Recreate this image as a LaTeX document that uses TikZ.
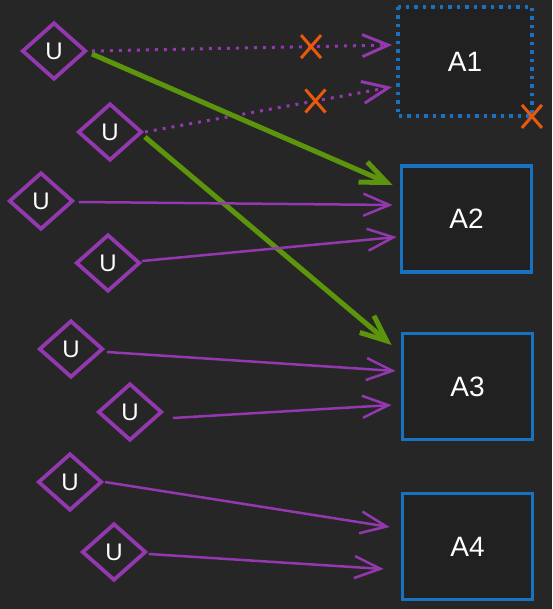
\documentclass[tikz,border=0pt]{standalone}
\usepackage{fontspec}
\setmainfont{Liberation Sans}
\usetikzlibrary{shapes.geometric,shapes.misc,arrows.meta,calc}
\definecolor{bgc}{HTML}{262626}
\definecolor{boxfill}{HTML}{212121}
\definecolor{purp}{HTML}{9338AE}
\definecolor{grn}{HTML}{5C940D}
\definecolor{blu}{HTML}{1971C2}
\definecolor{org}{HTML}{E8590C}
\tikzset{
  udiam/.style={diamond, draw=purp, line width=3.8pt, fill=bgc, minimum width=64pt, minimum height=57pt, inner sep=0pt, text=white, font=\fontsize{24}{24}\selectfont},
  abox/.style={rectangle, draw=blu, line width=3.8pt, fill=boxfill, minimum width=130pt, minimum height=106pt, text=white, font=\fontsize{28}{28}\selectfont},
  tip/.style={-{Straight Barb[length=26pt,width=22pt]}},
  parrow/.style={tip, draw=purp, line width=2.5pt},
  garrow/.style={tip, draw=grn, line width=5pt},
  darrow/.style={tip, draw=purp, line width=3pt, dash pattern=on 3pt off 6pt},
  xmark/.style={cross out, draw=org, line width=3pt, minimum width=17pt, minimum height=20pt, inner sep=0pt},
}
\begin{document}
\begin{tikzpicture}[x=1pt,y=-1pt]
\fill[bgc] (0,0) rectangle (552,609);
\useasboundingbox (0,0) rectangle (552,609);
% boxes
\node[abox, draw=none] (a1) at (465,61.5) {A1};
\draw[blu, line width=4pt, dash pattern=on 3.5pt off 5pt] (a1.north west) rectangle (a1.south east);
\node[abox] (a2) at (466.5,219) {A2};
\node[abox] (a3) at (467.5,386.5) {A3};
\node[abox] (a4) at (467.5,546.5) {A4};
% diamonds
\node[udiam] (d1) at (54,51) {U};
\node[udiam] (d2) at (110,132) {U};
\node[udiam] (d3) at (41,201) {U};
\node[udiam] (d4) at (108,263) {U};
\node[udiam] (d5) at (71,349) {U};
\node[udiam] (d6) at (130,412) {U};
\node[udiam] (d7) at (70,482) {U};
\node[udiam] (d8) at (114,552) {U};
% dotted arrows to A1
\draw[darrow] ([xshift=4pt]d1.east) -- node[pos=0.73, xmark, solid] (x1) {} ([xshift=-6pt,yshift=16.5pt]a1.west);
\draw[darrow] ([xshift=1pt]d2.east) -- node[pos=0.69, xmark, solid] (x2) {} ([xshift=-6pt,yshift=-25.5pt]a1.west);
\node[xmark] (x3) at (a1.south east) {};
% green arrows
\draw[garrow] ([xshift=4pt,yshift=-3pt]d1.east) -- ([xshift=-7pt,yshift=34pt]a2.west);
\draw[garrow] ([xshift=1pt,yshift=-5pt]d2.east) -- ([xshift=-9pt,yshift=41.5pt]a3.west);
% purple arrows
\draw[parrow] ([xshift=4pt,yshift=-1pt]d3.east) -- ([xshift=-7pt,yshift=14pt]a2.west);
\draw[parrow] ([yshift=2pt]d4.east) -- ([xshift=-3pt,yshift=-18pt]a2.west);
\draw[parrow] ([xshift=2pt,yshift=-3pt]d5.east) -- ([xshift=-5pt,yshift=15.5pt]a3.west);
\draw[parrow] ([xshift=9pt,yshift=-6pt]d6.east) -- ([xshift=-9pt,yshift=-18.5pt]a3.west);
\draw[parrow] ([xshift=1pt]d7.east) -- ([xshift=-11pt,yshift=19.5pt]a4.west);
\draw[parrow] ([xshift=1pt,yshift=-2pt]d8.east) -- ([xshift=-17pt,yshift=-22.5pt]a4.west);
\end{tikzpicture}
\end{document}
